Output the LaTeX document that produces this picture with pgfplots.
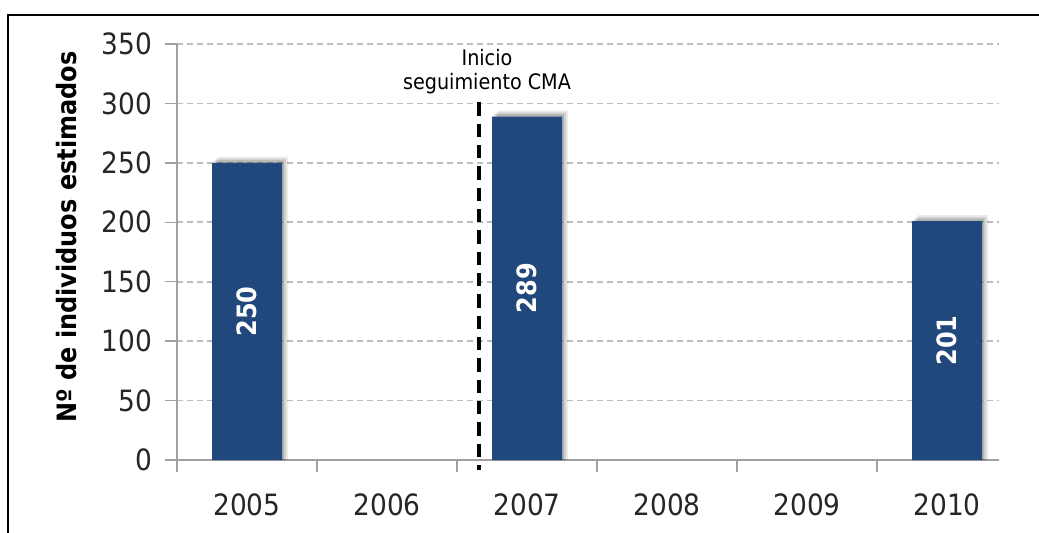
\documentclass[border=0pt]{standalone}
\usepackage{pgfplots}
\pgfplotsset{compat=1.18}
\usepackage{pgfplotstable}
\usepackage{fontspec}
\setmainfont{DejaVuSansCondensed.ttf}[BoldFont=DejaVuSansCondensed-Bold.ttf]
\definecolor{barblue}{RGB}{33,72,125}
\definecolor{gridgray}{RGB}{190,190,190}
\definecolor{axisgray}{RGB}{160,160,160}
\pgfplotstableread{
x y
0 250
2 289
5 201
}\bars
\begin{document}
\begin{tikzpicture}
\useasboundingbox (0,0) rectangle (779.25pt,399pt);
\draw[line width=1.5pt] ({7.5*0.75pt},-2pt) -- ({7.5*0.75pt},{(532-15.5)*0.75pt}) -- (781pt,{(532-15.5)*0.75pt});
\node[rotate=90, font=\bfseries\fontsize{20}{24}\selectfont] at ({67*0.75pt},{(532-237)*0.75pt}) {Nº de individuos estimados};
\begin{axis}[
  at={({177*0.75pt},{72*0.75pt})}, anchor=south west,
  scale only axis, width=616.5pt, height=312pt,
  xmin=-0.5, xmax=5.371, ymin=0, ymax=350,
  /pgf/number format/assume math mode=true,
  axis x line*=bottom, axis y line*=left,
  axis line style={draw=axisgray, line width=1pt},
  ytick={0,50,...,350},
  ymajorgrids,
  grid style={draw=gridgray, line width=1.2pt, dash pattern=on 4.5pt off 3pt},
  ytick style={draw=axisgray, line width=1pt},
  tick align=outside, major tick length=9pt,
  xtick={0,...,5}, xticklabels={2005,2006,2007,2008,2009,2010},
  xtick style={draw=none},
  extra x ticks={-0.5,0.5,1.5,2.5,3.5,4.5},
  extra x tick labels={},
  extra x tick style={xtick style={draw=axisgray, line width=1pt}, grid=none},
  tick label style={font=\fontsize{22}{26}\selectfont, text=black!85},
  xticklabel style={yshift=-12.5pt},
  yticklabel style={xshift=-6pt},
  clip=false,
]
\addplot[ybar, bar width=0.5, bar shift=4.5pt, fill=black, fill opacity=0.08, draw=none] table[x=x, y expr=\thisrow{y}+5]{\bars};
\addplot[ybar, bar width=0.5, bar shift=3pt, fill=black, fill opacity=0.11, draw=none] table[x=x, y expr=\thisrow{y}+3.5]{\bars};
\addplot[ybar, bar width=0.5, bar shift=1.5pt, fill=black, fill opacity=0.15, draw=none] table[x=x, y expr=\thisrow{y}+2]{\bars};
\addplot[ybar, bar width=0.5, bar shift=0pt, fill=barblue, draw=none] table[x=x, y=y]{\bars};
\addplot[only marks, mark=none, point meta=explicit, nodes near coords,
  nodes near coords style={rotate=90, anchor=center, text=white, font=\bfseries\fontsize{20}{24}\selectfont}]
  table[x=x, y expr=\thisrow{y}/2, meta=y]{\bars};
\addplot[black, line width=3pt, dash pattern=on 10pt off 6pt] coordinates {(1.657,301) (1.657,-8.5)};
\node[font=\fontsize{16}{19}\selectfont, anchor=center] at (axis cs:1.714,339) {Inicio};
\node[font=\fontsize{16}{19}\selectfont, anchor=center] at (axis cs:1.714,317) {seguimiento CMA};
\end{axis}
\end{tikzpicture}
\end{document}
